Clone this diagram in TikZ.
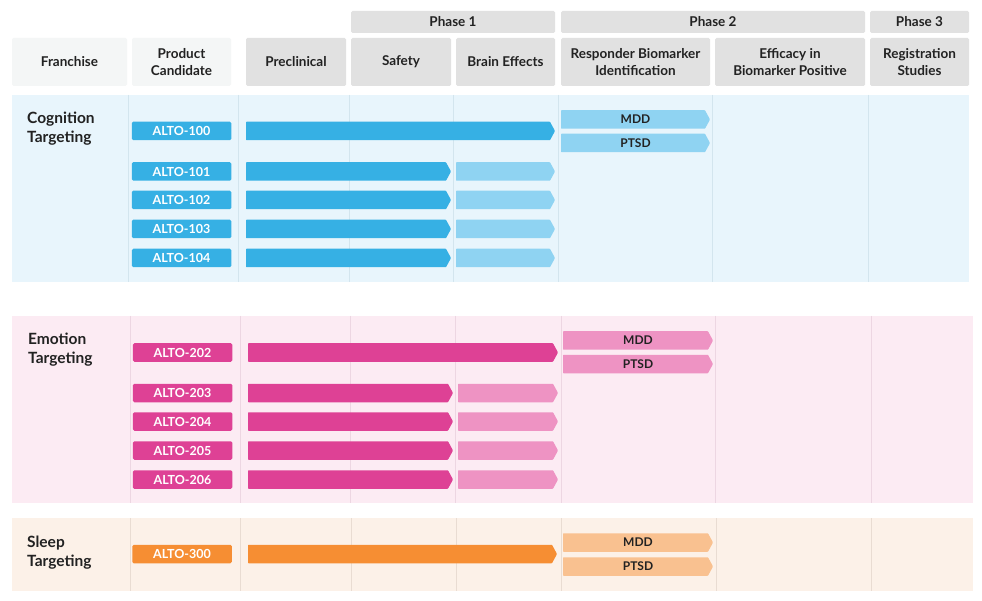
\documentclass[tikz,border=0pt]{standalone}
\usepackage{fontspec}
\setmainfont{Lato}
\definecolor{hdrL}{HTML}{F4F6F6}
\definecolor{hdrD}{HTML}{E1E1E1}
\definecolor{txtD}{HTML}{222222}
\definecolor{cogBg}{HTML}{E8F5FC}
\definecolor{cogLn}{HTML}{D3E5EE}
\definecolor{emoBg}{HTML}{FCEBF3}
\definecolor{emoLn}{HTML}{EDD6E2}
\definecolor{slpBg}{HTML}{FCF1E8}
\definecolor{slpLn}{HTML}{E9DCD2}
\definecolor{blueD}{HTML}{36B0E4}
\definecolor{blueL}{HTML}{8FD3F2}
\definecolor{pinkD}{HTML}{DE4195}
\definecolor{pinkL}{HTML}{EE93C3}
\definecolor{orgD}{HTML}{F68E33}
\definecolor{orgL}{HTML}{F9C190}
\newcommand{\chev}[4]{%
  \fill[#1,rounded corners=0.6pt] (#2,#4-9.25) -- (#3-5,#4-9.25) -- (#3,#4) -- (#3-5,#4+9.25) -- (#2,#4+9.25) -- cycle;}
\tikzset{
  hbox/.style={rounded corners=1.5pt, inner sep=0pt, align=center, text=txtD,
    font=\fontsize{13.5}{17}\selectfont\bfseries},
  title/.style={anchor=north west, inner sep=0pt, align=left, text=txtD,
    font=\fontsize{15.5}{19}\selectfont\bfseries},
  lbl/.style={fill=#1, rounded corners=1.5pt, inner sep=0pt, minimum width=99.5pt,
    minimum height=18.5pt, text=white, font=\fontsize{12.5}{14}\selectfont\bfseries},
  ind/.style={inner sep=0pt, text=txtD, font=\fontsize{12}{13}\selectfont\bfseries},
}
\begin{document}
\begin{tikzpicture}[x=1pt,y=-1pt]
\useasboundingbox[fill=white] (0,0) rectangle (982,601);
% header row 1
\node[hbox, fill=hdrD, minimum width=204pt, minimum height=22pt] (ph1) at (453,22) {Phase 1};
\node[hbox, fill=hdrD, minimum width=304pt, minimum height=22pt] (ph2) at (713,22) {Phase 2};
\node[hbox, fill=hdrD, minimum width=99pt, minimum height=22pt] (ph3) at (919.5,22) {Phase 3};
% header row 2
\node[hbox, fill=hdrL, minimum width=115pt, minimum height=48pt] (hfr) at (69.5,62) {Franchise};
\node[hbox, fill=hdrL, minimum width=99pt, minimum height=48pt] (hpc) at (181.5,62) {Product\\Candidate};
\node[hbox, fill=hdrD, minimum width=100pt, minimum height=48pt] (hpre) at (296,62) {Preclinical};
\node[hbox, fill=hdrD, minimum width=100pt, minimum height=48pt] (hsaf) at (401,62) {Safety};
\node[hbox, fill=hdrD, minimum width=99pt, minimum height=48pt] (hbra) at (505.5,62) {Brain Effects};
\node[hbox, fill=hdrD, minimum width=149pt, minimum height=48pt] (hres) at (635.5,62) {Responder Biomarker\\Identification};
\node[hbox, fill=hdrD, minimum width=150pt, minimum height=48pt] (heff) at (790,62) {Efficacy in\\Biomarker Positive};
\node[hbox, fill=hdrD, minimum width=99pt, minimum height=48pt] (hreg) at (919.5,62) {Registration\\Studies};
% section backgrounds
\fill[cogBg] (12,95) rectangle (969,282);
\foreach \x in {128,238,349,453,558,712,868} \draw[cogLn, line width=0.9pt] (\x,95) -- (\x,282);
\fill[emoBg] (12,316) rectangle (973,503);
\foreach \x in {130,240,350,455,561,715,871} \draw[emoLn, line width=0.9pt] (\x,316) -- (\x,503);
\fill[slpBg] (12,518) rectangle (973,591);
\foreach \x in {130,240,351,456,561,716,871} \draw[slpLn, line width=0.9pt] (\x,518) -- (\x,591);
% titles
\node[title] (tcog) at (27,111.5) {Cognition\\Targeting};
\node[title] (temo) at (28,332.5) {Emotion\\Targeting};
\node[title] (tslp) at (27,535.5) {Sleep\\Targeting};
% cognition
\node[lbl=blueD] (a100) at (181.5,131) {ALTO-100};
\chev{blueD}{246}{555}{131}
\chev{blueL}{561}{710}{119.5}
\node[ind] (c100m) at (635.5,119.5) {MDD};
\chev{blueL}{561}{710}{143}
\node[ind] (c100p) at (635.5,143) {PTSD};
\foreach \n/\y in {101/171.5,102/200,103/229,104/258}{
  \node[lbl=blueD] (a\n) at (181.5,\y) {ALTO-\n};
  \chev{blueD}{246}{451}{\y}
  \chev{blueL}{456}{555}{\y}
}
% emotion
\node[lbl=pinkD] (a202) at (182.5,352.5) {ALTO-202};
\chev{pinkD}{248}{558}{352.5}
\chev{pinkL}{563}{713}{340.5}
\node[ind] (e202m) at (638,340.5) {MDD};
\chev{pinkL}{563}{713}{364}
\node[ind] (e202p) at (638,364) {PTSD};
\foreach \n/\y in {203/393,204/421.5,205/450.5,206/479.5}{
  \node[lbl=pinkD] (a\n) at (182.5,\y) {ALTO-\n};
  \chev{pinkD}{248}{453}{\y}
  \chev{pinkL}{458}{558}{\y}
}
% sleep
\node[lbl=orgD] (a300) at (182,554) {ALTO-300};
\chev{orgD}{248}{557}{554}
\chev{orgL}{563}{713}{542.5}
\node[ind] (s300m) at (638,542.5) {MDD};
\chev{orgL}{563}{713}{566.5}
\node[ind] (s300p) at (638,566.5) {PTSD};
\end{tikzpicture}
\end{document}
